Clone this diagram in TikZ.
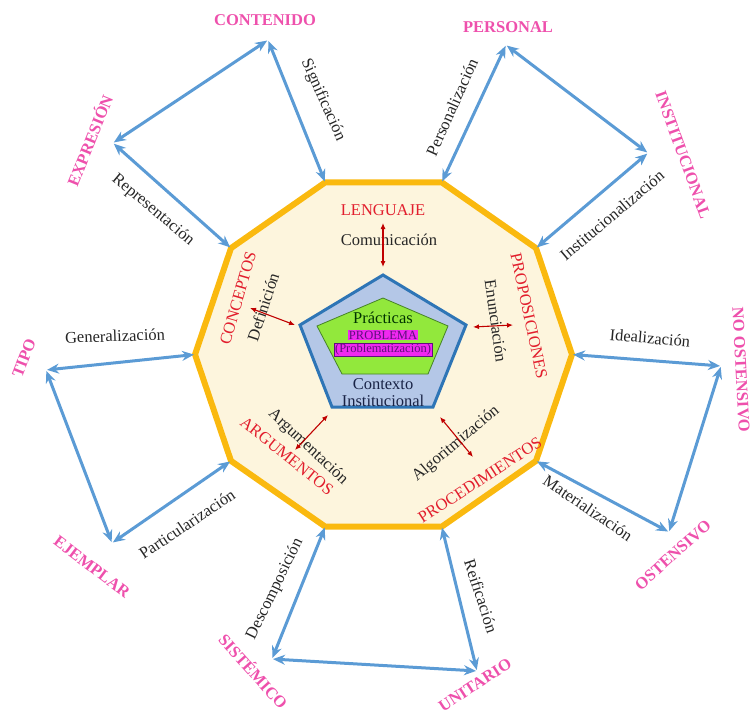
\documentclass[tikz,border=0pt]{standalone}
\usepackage{fontspec}
\setmainfont{Liberation Serif}
\usetikzlibrary{arrows.meta, calc}
\definecolor{azul}{RGB}{91,155,213}
\definecolor{naranja}{RGB}{250,185,15}
\definecolor{crema}{RGB}{253,245,221}
\definecolor{celeste}{RGB}{180,199,231}
\definecolor{azulB}{RGB}{46,117,182}
\definecolor{lima}{RGB}{146,232,60}
\definecolor{verdeB}{RGB}{70,130,40}
\definecolor{rojoT}{RGB}{226,30,45}
\definecolor{rojoF}{RGB}{192,0,0}
\definecolor{rosaT}{RGB}{238,80,172}
\definecolor{magentaF}{RGB}{240,40,240}
\definecolor{moradoT}{RGB}{95,15,125}
\definecolor{navyT}{RGB}{25,35,70}

\begin{document}
\begin{tikzpicture}[x=1pt, y=-1pt,
  lbl/.style={font=\fontsize{16.5}{18}\selectfont, text=black!85, inner sep=1pt},
  rojo/.style={font=\fontsize{16.5}{18}\selectfont, text=rojoT, inner sep=1pt},
  rosa/.style={font=\fontsize{16.5}{18}\selectfont\bfseries, text=rosaT, inner sep=1pt},
  flecha/.style={{Stealth[length=12pt,width=10pt]}-{Stealth[length=12pt,width=10pt]},
    line width=3pt, draw=azul, shorten <=1pt, shorten >=1pt},
  fr/.style={{Latex[length=6pt,width=5pt]}-{Latex[length=6pt,width=5pt]},
    line width=1.1pt, draw=rojoF},
  resalte/.style={fill=magentaF, text=moradoT, inner sep=1pt,
    font=\fontsize{12.5}{13}\selectfont}]
\useasboundingbox (0,0) rectangle (752,714);

% decagono
\foreach \i in {0,...,9}
  \coordinate (v\i) at ({383.5+188.5*cos(36*\i)},{354.5-181*sin(36*\i)});
\draw[naranja, fill=crema, line width=6pt, line join=miter]
  (v0) -- (v1) -- (v2) -- (v3) -- (v4) -- (v5) -- (v6) -- (v7) -- (v8) -- (v9) -- cycle;

% pentagonos
\coordinate (q1) at (383,275);
\coordinate (q2) at (466,325);
\coordinate (q3) at (433,407);
\coordinate (q4) at (332,407);
\coordinate (q5) at (300,325);
\draw[azulB, fill=celeste, line width=3pt, line join=miter]
  (q1) -- (q2) -- (q3) -- (q4) -- (q5) -- cycle;
\coordinate (g1) at (383,298);
\coordinate (g2) at (448,326);
\coordinate (g3) at (428,374);
\coordinate (g4) at (342,374);
\coordinate (g5) at (317,326);
\draw[verdeB, fill=lima, line width=0.8pt]
  (g1) -- (g2) -- (g3) -- (g4) -- (g5) -- cycle;

\node[font=\fontsize{16.5}{18}\selectfont, text=black!80!green, inner sep=0pt] (prac) at (383,318) {Prácticas};
\node[resalte] (prob) at (383,335) {PROBLEMA};
\node[resalte, draw=moradoT, line width=0.5pt] (probz) at (383,349.5) {(Problematización)};
\node[font=\fontsize{16.5}{17}\selectfont, text=navyT, align=center, inner sep=0pt] (ctx) at (383,393) {Contexto\\Institucional};

% etiquetas rojas
\node[rojo] (leng) at (383,210) {LENGUAJE};
\node[rojo, rotate=74] (conc) at (238,298) {CONCEPTOS};
\node[rojo, rotate=-78] (prop) at (529,316) {PROPOSICIONES};
\node[rojo, rotate=-39] (argu) at (287,456) {ARGUMENTOS};
\node[rojo, rotate=33] (proc) at (480,480) {PROCEDIMIENTOS};

\node[lbl] (comu) at (389,240) {Comunicación};
\node[lbl, rotate=72] (defi) at (263,307) {Definición};
\node[lbl, rotate=-82] (enun) at (496,321) {Enunciación};
\node[lbl, rotate=-43] (argm) at (308,447) {Argumentación};
\node[lbl, rotate=40] (algo) at (456,444) {Algoritmización};

\coordinate (r1a) at (383,223);
\coordinate (r1b) at (383,267);
\coordinate (r2a) at (250,308);
\coordinate (r2b) at (295,325);
\coordinate (r3a) at (473,327);
\coordinate (r3b) at (513,325);
\coordinate (r4a) at (328,415);
\coordinate (r4b) at (295,450);
\coordinate (r5a) at (440,417);
\coordinate (r5b) at (473,457);
\draw[fr] (r1a) -- (r1b);
\draw[fr] (r2a) -- (r2b);
\draw[fr] (r3a) -- (r3b);
\draw[fr] (r4a) -- (r4b);
\draw[fr] (r5a) -- (r5b);

% polos exteriores
\node[rosa] (cont) at (265,20) {CONTENIDO};
\node[rosa] (pers) at (508,27) {PERSONAL};
\node[rosa, rotate=-70] (inst) at (683,155) {INSTITUCIONAL};
\node[rosa, rotate=-87] (noos) at (741,370) {NO OSTENSIVO};
\node[rosa, rotate=42] (oste) at (673,555) {OSTENSIVO};
\node[rosa, rotate=33] (unit) at (475,685) {UNITARIO};
\node[rosa, rotate=-48] (sist) at (254,671) {SISTÉMICO};
\node[rosa, rotate=-37] (ejem) at (92,567) {EJEMPLAR};
\node[rosa, rotate=69] (tipo) at (24,358) {TIPO};
\node[rosa, rotate=68] (expr) at (89,140) {EXPRESIÓN};

\coordinate (pCont) at (268,40);
\coordinate (pExpr) at (113,143);
\coordinate (pPers) at (506,45);
\coordinate (pInst) at (648,153);
\coordinate (pNoOst) at (721,366);
\coordinate (pOst) at (669,532);
\coordinate (pUnit) at (477,671);
\coordinate (pSist) at (272,659);
\coordinate (pEjem) at (112,543);
\coordinate (pTipo) at (46,370);

\draw[flecha] (pCont) -- (pExpr);
\draw[flecha] (pCont) -- (v3);
\draw[flecha] (pExpr) -- (v4);
\draw[flecha] (pPers) -- (v2);
\draw[flecha] (pPers) -- (pInst);
\draw[flecha] (pInst) -- (v1);
\draw[flecha] (v0) -- (pNoOst);
\draw[flecha] (pNoOst) -- (pOst);
\draw[flecha] (v9) -- (pOst);
\draw[flecha] (v8) -- (pUnit);
\draw[flecha] (pUnit) -- (pSist);
\draw[flecha] (pSist) -- (v7);
\draw[flecha] (v6) -- (pEjem);
\draw[flecha] (pEjem) -- (pTipo);
\draw[flecha] (pTipo) -- (v5);

\node[lbl, rotate=-66] (sign) at (323,100) {Significación};
\node[lbl, rotate=66] (pzn) at (452,107) {Personalización};
\node[lbl, rotate=-40] (repr) at (153,210) {Representación};
\node[lbl, rotate=40] (instz) at (612,215) {Institucionalización};
\node[lbl, rotate=2] (gene) at (115,336) {Generalización};
\node[lbl, rotate=-5] (idea) at (650,338) {Idealización};
\node[lbl, rotate=-34] (mate) at (588,508) {Materialización};
\node[lbl, rotate=-72] (reif) at (481,596) {Reificación};
\node[lbl, rotate=64] (desc) at (275,589) {Descomposición};
\node[lbl, rotate=34] (part) at (187,524) {Particularización};
\end{tikzpicture}
\end{document}
